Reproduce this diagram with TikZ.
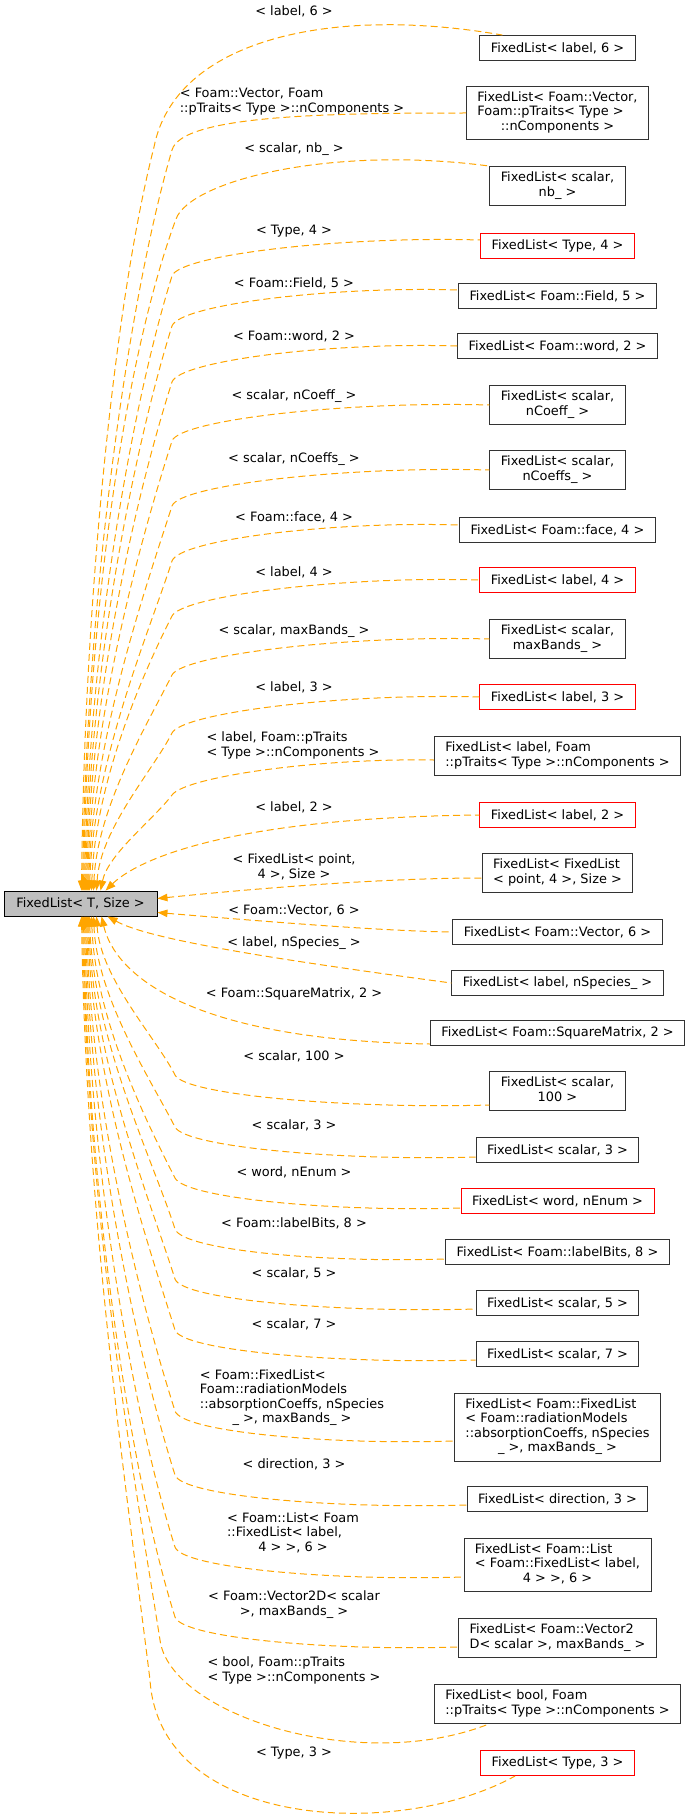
\documentclass[tikz,border=0pt]{standalone}
\usepackage{fontspec}
\setmainfont{DejaVu Sans}
\usetikzlibrary{arrows.meta}
\definecolor{edgeorange}{HTML}{FFA500}
\definecolor{rootgrey}{HTML}{BFBFBF}
\definecolor{truncred}{HTML}{FF0000}
% all lines but the last flush left, the last one centred
\newcommand{\glines}[2]{\begin{tabular}{@{}l@{}}#1\\\multicolumn{1}{@{}c@{}}{#2}\end{tabular}}

\begin{document}
\begin{tikzpicture}[x=1pt, y=-1pt, >={Triangle[length=10pt,width=7.5pt]},
    every node/.style={font=\fontsize{12.9}{14.5}\selectfont},
    cls/.style={draw=black!80, line width=0.9pt, fill=white, inner xsep=11pt, inner ysep=5pt, minimum height=25pt},
    trunc/.style={cls, draw=truncred},
    root/.style={cls, draw=black, fill=rootgrey, minimum width=153pt},
    lbl/.style={inner sep=1pt},
    dep/.style={<-, draw=edgeorange, line width=1pt, dash pattern=on 7pt off 4pt}]
    \useasboundingbox (0,0) rectangle (692,1817);

    \node[root] (base) at (80.5,903.5) {FixedList< T, Size >};

    \node[cls] (n1) at (557.5,48) {FixedList< label, 6 >};
    \node[cls] (n2) at (557.5,113) {\glines{FixedList< Foam::Vector,\\Foam::pTraits< Type >}{::nComponents >}};
    \node[cls] (n3) at (557.5,186) {\glines{FixedList< scalar,}{nb\_ >}};
    \node[trunc] (n4) at (557.5,246) {FixedList< Type, 4 >};
    \node[cls] (n5) at (557.5,296) {FixedList< Foam::Field, 5 >};
    \node[cls] (n6) at (557.5,346) {FixedList< Foam::word, 2 >};
    \node[cls] (n7) at (557.5,405) {\glines{FixedList< scalar,}{nCoeff\_ >}};
    \node[cls] (n8) at (557.5,470) {\glines{FixedList< scalar,}{nCoeffs\_ >}};
    \node[cls] (n9) at (557.5,530) {FixedList< Foam::face, 4 >};
    \node[trunc] (n10) at (557.5,580) {FixedList< label, 4 >};
    \node[cls] (n11) at (557.5,639) {\glines{FixedList< scalar,}{maxBands\_ >}};
    \node[trunc] (n12) at (557.5,697) {FixedList< label, 3 >};
    \node[cls] (n13) at (557.5,756) {\glines{FixedList< label, Foam}{::pTraits< Type >::nComponents >}};
    \node[trunc] (n14) at (557.5,815) {FixedList< label, 2 >};
    \node[cls] (n15) at (557.5,873) {\glines{FixedList< FixedList}{< point, 4 >, Size >}};
    \node[cls] (n16) at (557.5,932) {FixedList< Foam::Vector, 6 >};
    \node[cls] (n17) at (557.5,983) {FixedList< label, nSpecies\_ >};
    \node[cls] (n18) at (557.5,1033) {FixedList< Foam::SquareMatrix, 2 >};
    \node[cls] (n19) at (557.5,1091) {\glines{FixedList< scalar,}{100 >}};
    \node[cls] (n20) at (557.5,1150) {FixedList< scalar, 3 >};
    \node[trunc] (n21) at (557.5,1201) {FixedList< word, nEnum >};
    \node[cls] (n22) at (557.5,1252) {FixedList< Foam::labelBits, 8 >};
    \node[cls] (n23) at (557.5,1303) {FixedList< scalar, 5 >};
    \node[cls] (n24) at (557.5,1354) {FixedList< scalar, 7 >};
    \node[cls] (n25) at (557.5,1427) {\glines{FixedList< Foam::FixedList\\< Foam::radiationModels\\::absorptionCoeffs, nSpecies}{\_ >, maxBands\_ >}};
    \node[cls] (n26) at (557.5,1499) {FixedList< direction, 3 >};
    \node[cls] (n27) at (557.5,1565) {\glines{FixedList< Foam::List\\< Foam::FixedList< label,}{4 > >, 6 >}};
    \node[cls] (n28) at (557.5,1638) {\glines{FixedList< Foam::Vector2}{D< scalar >, maxBands\_ >}};
    \node[cls] (n29) at (557.5,1704) {\glines{FixedList< bool, Foam}{::pTraits< Type >::nComponents >}};
    \node[trunc] (n30) at (557.5,1763) {FixedList< Type, 3 >};

    \node[lbl] (l1) at (294,11) {< label, 6 >};
    \node[lbl] (l2) at (292,102) {\glines{< Foam::Vector, Foam}{::pTraits< Type >::nComponents >}};
    \node[lbl] (l3) at (294,149) {< scalar, nb\_ >};
    \node[lbl] (l4) at (294,231) {< Type, 4 >};
    \node[lbl] (l5) at (294,283) {< Foam::Field, 5 >};
    \node[lbl] (l6) at (294,336) {< Foam::word, 2 >};
    \node[lbl] (l7) at (294,396) {< scalar, nCoeff\_ >};
    \node[lbl] (l8) at (294,459) {< scalar, nCoeffs\_ >};
    \node[lbl] (l9) at (294,517) {< Foam::face, 4 >};
    \node[lbl] (l10) at (294,572) {< label, 4 >};
    \node[lbl] (l11) at (294,631) {< scalar, maxBands\_ >};
    \node[lbl] (l12) at (294,687) {< label, 3 >};
    \node[lbl] (l13) at (293,746) {\glines{< label, Foam::pTraits}{< Type >::nComponents >}};
    \node[lbl] (l14) at (294,807) {< label, 2 >};
    \node[lbl] (l15) at (294,868) {\glines{< FixedList< point,}{4 >, Size >}};
    \node[lbl] (l16) at (294,910) {< Foam::Vector, 6 >};
    \node[lbl] (l17) at (294,943) {< label, nSpecies\_ >};
    \node[lbl] (l18) at (294,994) {< Foam::SquareMatrix, 2 >};
    \node[lbl] (l19) at (294,1056) {< scalar, 100 >};
    \node[lbl] (l20) at (294,1125) {< scalar, 3 >};
    \node[lbl] (l21) at (294,1172) {< word, nEnum >};
    \node[lbl] (l22) at (294,1223) {< Foam::labelBits, 8 >};
    \node[lbl] (l23) at (294,1273) {< scalar, 5 >};
    \node[lbl] (l24) at (294,1324) {< scalar, 7 >};
    \node[lbl] (l25) at (292,1398) {\glines{< Foam::FixedList<\\Foam::radiationModels\\::absorptionCoeffs, nSpecies}{\_ >, maxBands\_ >}};
    \node[lbl] (l26) at (294,1464) {< direction, 3 >};
    \node[lbl] (l27) at (293,1534) {\glines{< Foam::List< Foam\\::FixedList< label,}{4 > >, 6 >}};
    \node[lbl] (l28) at (294,1605) {\glines{< Foam::Vector2D< scalar}{>, maxBands\_ >}};
    \node[lbl] (l29) at (294,1671) {\glines{< bool, Foam::pTraits}{< Type >::nComponents >}};
    \node[lbl] (l30) at (294,1753) {< Type, 3 >};

    % upper children, into the top of the base class
    \draw[dep] ([xshift=78pt]base.north west) .. controls (84,600) and (115,300) .. (154,147) .. controls (175,40) and (330,5) .. ([xshift=23pt]n1.north west);
    \draw[dep] ([xshift=79pt]base.north west) .. controls (86,600) and (128,300) .. (172,150) .. controls (182,115) and (330,113) .. (n2.west);
    \draw[dep] ([xshift=80pt]base.north west) .. controls (87,620) and (124,360) .. (176,219) .. controls (190,181) and (330,145) .. (n3.north west);
    \draw[dep] ([xshift=81pt]base.north west) .. controls (88,651) and (132,404) .. (172,276) .. controls (179,255) and (341,236) .. ([yshift=6pt]n4.west);
    \draw[dep] ([xshift=82pt]base.north west) .. controls (89,671) and (135,444) .. (172,326) .. controls (179,305) and (329,286) .. ([yshift=6pt]n5.west);
    \draw[dep] ([xshift=83pt]base.north west) .. controls (90,692) and (138,488) .. (172,382) .. controls (179,361) and (329,342) .. (n6.west);
    \draw[dep] ([xshift=84pt]base.north west) .. controls (91,715) and (142,535) .. (172,441) .. controls (179,420) and (346,401) .. (n7.west);
    \draw[dep] ([xshift=85pt]base.north west) .. controls (92,741) and (146,587) .. (172,506) .. controls (179,485) and (346,466) .. (n8.west);
    \draw[dep] ([xshift=86pt]base.north west) .. controls (93,762) and (150,630) .. (172,561) .. controls (179,540) and (330,521) .. ([yshift=5pt]n9.west);
    \draw[dep] ([xshift=88pt]base.north west) .. controls (95,784) and (141,677) .. (172,616) .. controls (182,596) and (341,576) .. (n10.west);
    \draw[dep] ([xshift=90pt]base.north west) .. controls (97,807) and (148,723) .. (172,675) .. controls (182,655) and (346,635) .. (n11.west);
    \draw[dep] ([xshift=93pt]base.north west) .. controls (100,829) and (154,769) .. (172,733) .. controls (182,713) and (341,693) .. (n12.west);
    \draw[dep] ([xshift=97pt]base.north west) .. controls (108,854) and (154,819) .. (172,795) .. controls (185,777) and (316,758) .. ([yshift=-4pt]n13.west);
    \draw[dep] ([xshift=102pt]base.north west) .. controls (135,862) and (220,818) .. (n14.west);

    % side
    \draw[dep] ([yshift=5pt]base.east) .. controls (250,889) and (380,878) .. ([yshift=-5pt]n15.west);
    \draw[dep] ([yshift=-9pt]base.east) .. controls (260,921) and (380,931) .. (n16.west);

    % lower children, into the bottom of the base class
    \draw[dep] ([xshift=104pt]base.south west) .. controls (150,940) and (280,960) .. (n17.west);
    \draw[dep] ([xshift=98pt]base.south west) .. controls (115,975) and (190,1040) .. ([yshift=-11pt]n18.west);
    \draw[dep] ([xshift=93pt]base.south west) .. controls (100,978) and (157,1039) .. (175,1075) .. controls (185,1095) and (348,1109) .. ([yshift=-14pt]n19.west);
    \draw[dep] ([xshift=90pt]base.south west) .. controls (97,998) and (151,1080) .. (175,1127) .. controls (185,1147) and (341,1161) .. ([yshift=-7pt]n20.west);
    \draw[dep] ([xshift=88pt]base.south west) .. controls (95,1018) and (145,1119) .. (175,1178) .. controls (185,1198) and (332,1212) .. ([yshift=-7pt]n21.west);
    \draw[dep] ([xshift=86pt]base.south west) .. controls (93,1038) and (154,1163) .. (175,1229) .. controls (182,1250) and (323,1263) .. ([yshift=-7pt]n22.west);
    \draw[dep] ([xshift=85pt]base.south west) .. controls (92,1058) and (151,1203) .. (175,1279) .. controls (182,1300) and (341,1313) .. ([yshift=-6pt]n23.west);
    \draw[dep] ([xshift=84pt]base.south west) .. controls (91,1077) and (148,1244) .. (175,1330) .. controls (182,1351) and (341,1364) .. ([yshift=-6pt]n24.west);
    \draw[dep] ([xshift=83pt]base.south west) .. controls (90,1109) and (142,1307) .. (175,1411) .. controls (182,1432) and (329,1445) .. ([yshift=-14pt]n25.west);
    \draw[dep] ([xshift=82pt]base.south west) .. controls (89,1134) and (138,1358) .. (175,1475) .. controls (182,1496) and (335,1509) .. ([yshift=-6pt]n26.west);
    \draw[dep] ([xshift=81pt]base.south west) .. controls (88,1162) and (133,1415) .. (175,1547) .. controls (182,1568) and (333,1581) .. ([yshift=-12pt]n27.west);
    \draw[dep] ([xshift=80pt]base.south west) .. controls (87,1189) and (130,1474) .. (175,1617) .. controls (182,1638) and (331,1651) .. ([yshift=-9pt]n28.west);
    \draw[dep] ([xshift=79pt]base.south west) .. controls (87,1220) and (135,1480) .. (160,1640) .. controls (170,1715) and (360,1775) .. ([xshift=55pt]n29.south west);
    \draw[dep] ([xshift=78pt]base.south west) .. controls (86,1220) and (128,1500) .. (150,1680) .. controls (160,1830) and (400,1840) .. ([xshift=35pt]n30.south west);
\end{tikzpicture}
\end{document}
